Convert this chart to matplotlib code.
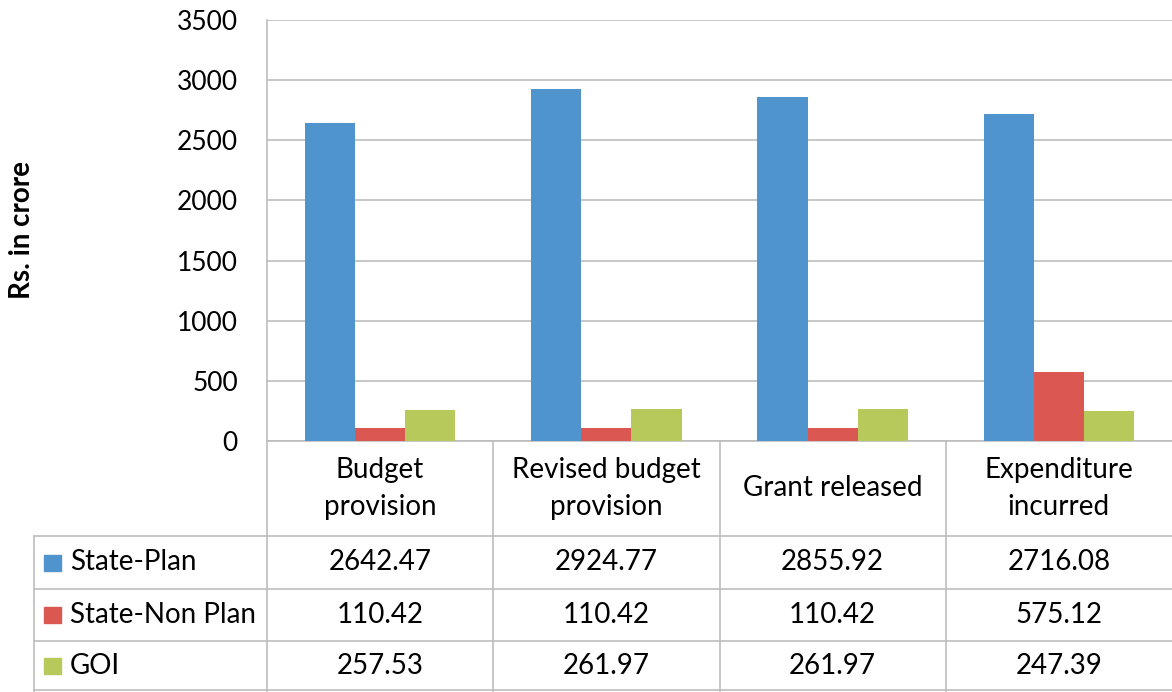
import matplotlib
matplotlib.use('Agg')
import matplotlib.pyplot as plt
import numpy as np
from matplotlib.lines import Line2D
from matplotlib.patches import Rectangle

# data
categories = ["Budget\nprovision", "Revised budget\nprovision", "Grant released", "Expenditure\nincurred"]
series_names = ["State-Plan", "State-Non Plan", "GOI"]
state_plan = [2642.47, 2924.77, 2855.92, 2716.08]
state_non_plan = [110.42, 110.42, 110.42, 575.12]
goi = [257.53, 261.97, 261.97, 247.39]
colors = ["#4F94CD", "#DB5752", "#B7C95A"]

plt.rcParams['font.family'] = ['Lato', 'DejaVu Sans']
FS = 20
GRID = "#BDBDBD"

W, H = 1172, 692
fig = plt.figure(figsize=(W / 100, H / 100), dpi=100)

# pixel -> figure coords
def fx(px):
    return px / W

def fy(py):
    return 1 - py / H

ax_left, ax_right, ax_top, ax_bottom = 267, 1172, 20, 441
ax = fig.add_axes([fx(ax_left), fy(ax_bottom), fx(ax_right) - fx(ax_left), fy(ax_top) - fy(ax_bottom)])

x = np.arange(len(categories))
w = 0.222
for i, vals in enumerate([state_plan, state_non_plan, goi]):
    ax.bar(x + (i - 1) * w, vals, width=w, color=colors[i], zorder=3)

ax.set_xlim(-0.5, len(categories) - 0.5)
ax.set_ylim(0, 3500)
ax.set_yticks(np.arange(0, 3501, 500))
ax.set_xticks([])
ax.grid(axis='y', color=GRID, linewidth=1.2, zorder=0)
ax.tick_params(axis='y', length=0, labelsize=19, pad=21)
for s in ['top', 'right']:
    ax.spines[s].set_visible(False)
ax.spines['left'].set_color(GRID)
ax.spines['left'].set_linewidth(1.2)
ax.spines['bottom'].set_color(GRID)
ax.spines['bottom'].set_linewidth(1.2)

fig.text(fx(22), fy(230), "Rs. in crore", rotation=90, ha='center', va='center',
         fontsize=FS, fontweight='bold')

# data table
col_w = (ax_right - ax_left) / len(categories)
col_x = [ax_left + i * col_w for i in range(len(categories) + 1)]
row_y = [441, 536, 589, 641, 690]
left_x = 34

def line(x0, y0, x1, y1):
    fig.add_artist(Line2D([fx(x0), fx(x1)], [fy(y0), fy(y1)], color=GRID, linewidth=1.2))

for cx in col_x[:-1]:
    line(cx, row_y[0], cx, H)
line(left_x, row_y[1], left_x, H)
for ry in row_y[1:]:
    line(left_x, ry, W, ry)

for j, cat in enumerate(categories):
    fig.text(fx(col_x[j] + col_w / 2), fy((row_y[0] + row_y[1]) / 2), cat,
             ha='center', va='center', fontsize=FS, linespacing=1.5)

for i, (name, vals) in enumerate(zip(series_names, [state_plan, state_non_plan, goi])):
    yc = (row_y[i + 1] + row_y[i + 2]) / 2
    fig.add_artist(Rectangle((fx(44), fy(yc + 8)), fx(17), fy(0) - fy(16),
                             color=colors[i], transform=fig.transFigure))
    fig.text(fx(70), fy(yc) , name, ha='left', va='center', fontsize=FS)
    for j, v in enumerate(vals):
        fig.text(fx(col_x[j] + col_w / 2), fy(yc), f"{v:.2f}",
                 ha='center', va='center', fontsize=FS)

fig.savefig("out.png", dpi=100)
